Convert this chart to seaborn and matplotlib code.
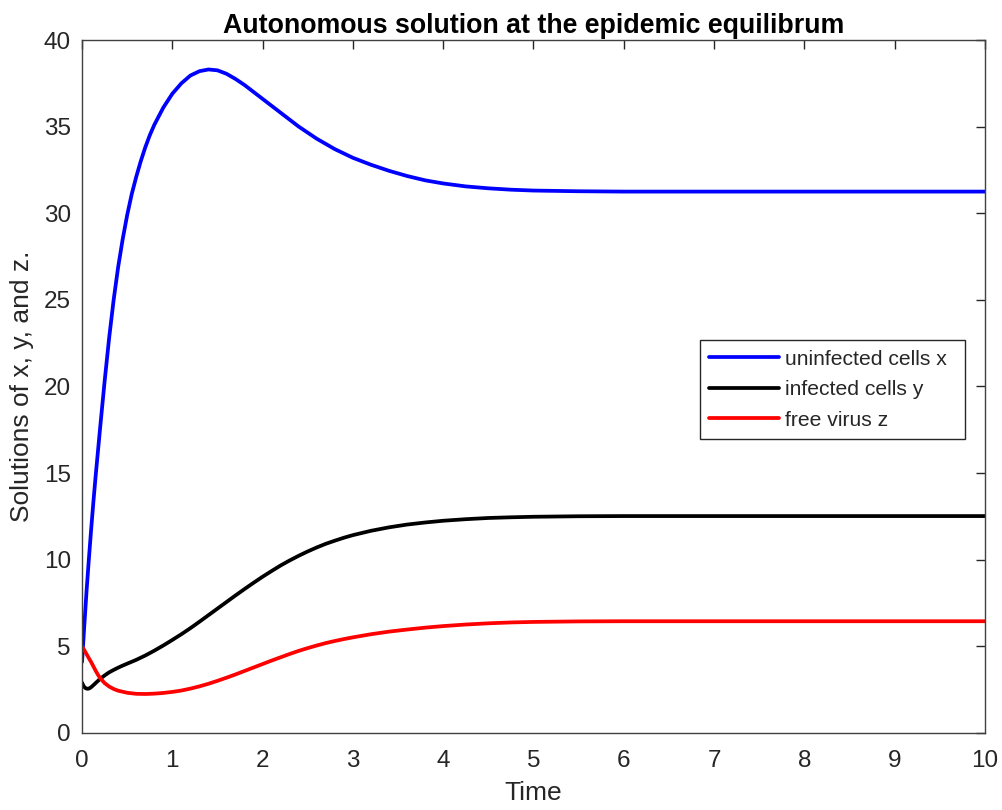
import numpy as np
import pandas as pd
import matplotlib
matplotlib.use("Agg")
import matplotlib.pyplot as plt
import seaborn as sns

# Data
t_x = [0, 0.025, 0.05, 0.075, 0.1, 0.125, 0.15, 0.175, 0.2, 0.25, 0.3, 0.35, 0.4, 0.45,
       0.5, 0.55, 0.6, 0.65, 0.7, 0.75, 0.8, 0.9, 1.0, 1.1, 1.2, 1.3, 1.4, 1.5, 1.6, 1.7,
       1.8, 1.9, 2.0, 2.1, 2.2, 2.3, 2.4, 2.5, 2.6, 2.7, 2.8, 2.9, 3.0, 3.2, 3.4, 3.6, 3.8,
       4.0, 4.25, 4.5, 4.75, 5.0, 5.5, 6.0, 7.0, 8.0, 9.0, 10.0]
x_vals = [4.1, 6.2, 8.2, 10.0, 11.7, 13.3, 14.8, 16.2, 17.6, 20.3, 22.8, 25.0, 26.9, 28.5,
          29.9, 31.1, 32.1, 33.0, 33.8, 34.5, 35.1, 36.1, 36.9, 37.5, 37.95, 38.2, 38.3,
          38.25, 38.05, 37.75, 37.4, 37.0, 36.6, 36.2, 35.8, 35.4, 35.0, 34.65, 34.3, 34.0,
          33.7, 33.45, 33.2, 32.8, 32.45, 32.15, 31.9, 31.72, 31.55, 31.44, 31.36, 31.31,
          31.27, 31.25, 31.25, 31.25, 31.25, 31.25]

t_y = [0, 0.02, 0.04, 0.06, 0.08, 0.1, 0.13, 0.16, 0.2, 0.25, 0.3, 0.35, 0.4, 0.45, 0.5,
       0.6, 0.7, 0.8, 0.9, 1.0, 1.1, 1.2, 1.3, 1.4, 1.5, 1.6, 1.7, 1.8, 1.9, 2.0, 2.1, 2.2,
       2.3, 2.4, 2.5, 2.6, 2.7, 2.8, 2.9, 3.0, 3.2, 3.4, 3.6, 3.8, 4.0, 4.25, 4.5, 4.75,
       5.0, 5.5, 6.0, 7.0, 8.0, 9.0, 10.0]
y_vals = [2.9, 2.68, 2.58, 2.55, 2.57, 2.64, 2.78, 2.93, 3.12, 3.32, 3.5, 3.64, 3.77, 3.89,
          4.0, 4.22, 4.47, 4.75, 5.05, 5.37, 5.7, 6.05, 6.42, 6.8, 7.18, 7.56, 7.94, 8.31,
          8.67, 9.02, 9.35, 9.67, 9.96, 10.23, 10.48, 10.71, 10.92, 11.1, 11.27, 11.42,
          11.67, 11.87, 12.03, 12.15, 12.25, 12.34, 12.41, 12.45, 12.48, 12.51, 12.52,
          12.52, 12.52, 12.52, 12.52]

t_z = [0, 0.025, 0.05, 0.075, 0.1, 0.125, 0.15, 0.175, 0.2, 0.25, 0.3, 0.35, 0.4, 0.5,
       0.6, 0.7, 0.8, 0.9, 1.0, 1.1, 1.2, 1.3, 1.4, 1.5, 1.6, 1.7, 1.8, 1.9, 2.0, 2.1, 2.2,
       2.3, 2.4, 2.5, 2.6, 2.7, 2.8, 2.9, 3.0, 3.2, 3.4, 3.6, 3.8, 4.0, 4.25, 4.5, 4.75,
       5.0, 5.5, 6.0, 7.0, 8.0, 9.0, 10.0]
z_vals = [5.0, 4.78, 4.55, 4.32, 4.1, 3.85, 3.6, 3.37, 3.17, 2.88, 2.68, 2.54, 2.44, 2.32,
          2.26, 2.25, 2.27, 2.31, 2.37, 2.45, 2.56, 2.69, 2.84, 3.01, 3.19, 3.38, 3.58,
          3.78, 3.98, 4.18, 4.37, 4.56, 4.74, 4.9, 5.05, 5.19, 5.31, 5.42, 5.52, 5.7, 5.85,
          5.97, 6.08, 6.17, 6.26, 6.33, 6.38, 6.41, 6.44, 6.45, 6.45, 6.45, 6.45, 6.45]

labels = ["uninfected cells x", "infected cells y", "free virus z"]
colors = ["#0000ff", "#000000", "#ff0000"]
x_ticks = list(range(0, 11))
y_ticks = list(range(0, 41, 5))

sns.set_theme(style="white")
plt.rcParams["font.family"] = ["Liberation Sans", "DejaVu Sans"]

fig = plt.figure(figsize=(10.03, 8.10), dpi=100)
ax = fig.add_axes([0.0818, 0.0951, 0.9002, 0.8555])

series = [(t_x, x_vals), (t_y, y_vals), (t_z, z_vals)]
for (tt, vv), lab, col in zip(series, labels, colors):
    df = pd.DataFrame({"Time": tt, "value": vv})
    sns.lineplot(data=df, x="Time", y="value", ax=ax, color=col, linewidth=2.7,
                 label=lab, sort=False)

ax.set_xlim(0, 10)
ax.set_ylim(0, 40)
ax.set_xticks(x_ticks)
ax.set_yticks(y_ticks)
ax.tick_params(axis="both", direction="in", length=6.5, width=1.0, colors="#262626",
               labelsize=17.5, top=True, right=True)
ax.tick_params(axis="x", pad=12)
ax.tick_params(axis="y", pad=8)
for lab in ax.get_xticklabels() + ax.get_yticklabels():
    lab.set_color("#262626")
for sp in ax.spines.values():
    sp.set_color("#404040")
    sp.set_linewidth(1.0)

ax.set_xlabel("Time", fontsize=19, color="#262626", labelpad=7)
ax.set_ylabel("Solutions of x, y, and z.", fontsize=19, color="#262626", labelpad=7)
ax.set_title("Autonomous solution at the epidemic equilibrum", fontsize=19.3,
             fontweight="bold", color="#000000", pad=5)

leg = ax.legend(loc="upper left", bbox_to_anchor=(0.684, 0.430, 0.2935, 0.137),
                mode="expand", fontsize=15.2,
                frameon=True, fancybox=False, edgecolor="#262626", framealpha=1,
                handlelength=3.3, handletextpad=0.3, borderpad=0.45, labelspacing=0.55,
                borderaxespad=0)
leg.get_frame().set_linewidth(1.0)

fig.savefig("out.png", dpi=100, facecolor="white")
